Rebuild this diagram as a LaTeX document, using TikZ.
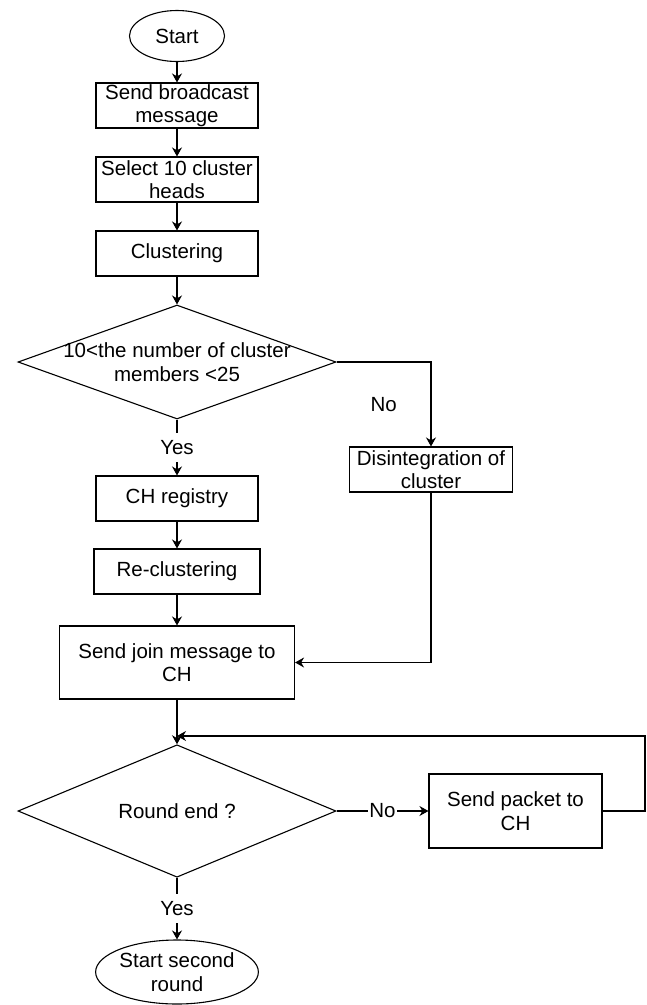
\documentclass[tikz,border=0pt]{standalone}
\usepackage{fontspec}
\setmainfont{Liberation Sans}
\usepackage{tikz}
\usetikzlibrary{shapes.geometric,arrows.meta,positioning}

\begin{document}
\begin{tikzpicture}[x=1pt,y=-1pt,
  font=\fontsize{20.5}{23.5}\selectfont,
  every node/.style={align=center,inner sep=0pt},
  terminal/.style={draw,ellipse,line width=1.1pt},
  process/.style={draw,rectangle,line width=1.1pt,minimum height=45pt},
  decision/.style={draw,diamond,line width=1.1pt,minimum width=318pt,minimum height=114pt},
  flow/.style={line width=1.1pt,-{Stealth[length=9pt,width=10pt]}},
  lbl/.style={fill=white,inner xsep=1pt,inner ysep=7pt}]
  \useasboundingbox (0,0) rectangle (647,1005);
  % main column
  \node[terminal,minimum width=95pt,minimum height=51pt] (start) at (177,36) {Start};
  \node[process,minimum width=162pt] (bcast) at (177,105.5) {Send broadcast\\message};
  \node[process,minimum width=162pt] (select) at (177,179.5) {Select 10 cluster\\heads};
  \node[process,minimum width=162pt] (clus) at (177,253.5) {Clustering};
  % cluster size check
  \node[decision,label={center:10<the number of cluster\\members <25}] (check) at (177,362) {};
  \node[process,minimum width=163pt] (disint) at (431,469.5) {Disintegration of\\cluster};
  \node[process,minimum width=162pt] (chreg) at (177,498.5) {CH registry};
  \node[process,minimum width=166pt] (reclus) at (177,571.5) {Re-clustering};
  \node[process,minimum width=235pt,minimum height=73pt] (join) at (177,662.5) {Send join message to\\CH};
  % round loop
  \node[decision] (roundend) at (177,811) {Round end ?};
  \node[process,minimum width=173pt,minimum height=74pt] (packet) at (515.5,811) {Send packet to\\CH};
  \node[terminal,minimum width=159pt,minimum height=64pt] (stop) at (177,972) {Start second\\round};
  \coordinate (loopR) at (645,736);
  \coordinate (loopL) at (177,736);

  \draw[flow] (start) -- (bcast);
  \draw[flow] (bcast) -- (select);
  \draw[flow] (select) -- (clus);
  \draw[flow] (clus) -- (check);
  \draw[flow] (check.south) -- node[lbl]{Yes} (chreg.north);
  \draw[flow] (check.east) -| node[pos=0.25,below=35pt]{No} (disint.north);
  \draw[flow] (chreg) -- (reclus);
  \draw[flow] (reclus) -- (join);
  \draw[flow] (disint.south) |- (join.east);
  \draw[flow] (join) -- (roundend);
  \draw[flow] (roundend.east) -- node[lbl]{No} (packet.west);
  \draw[flow] (packet.east) -| (loopR) -- (loopL);
  \draw[flow] (roundend.south) -- node[lbl]{Yes} (stop.north);
\end{tikzpicture}
\end{document}
